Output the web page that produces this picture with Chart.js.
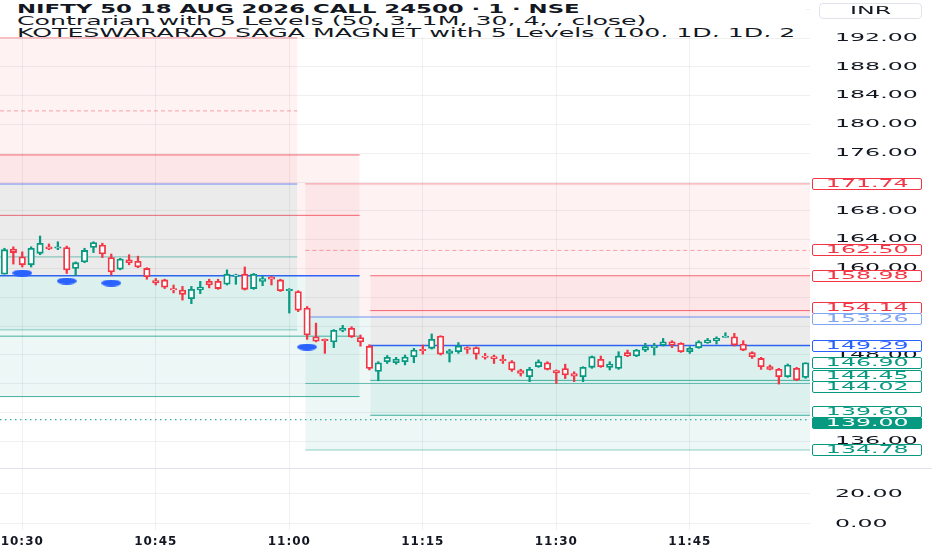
<!DOCTYPE html>
<html>
<head>
<meta charset="utf-8">
<title>NIFTY 50 18 AUG 2026 CALL 24500</title>
<script src="https://cdn.jsdelivr.net/npm/chart.js@4.4.1/dist/chart.umd.min.js"></script>
<style>
    html, body { margin: 0; padding: 0; background: #fff; }
    body { width: 932px; height: 550px; position: relative; overflow: hidden; font-family: 'DejaVu Sans', sans-serif; color: #131722; }
    canvas { position: absolute; left: 0; }
    #mainChart { top: 0; }
    #lowerChart { top: 468px; }
    #divider { position: absolute; left: 0; top: 468px; width: 932px; height: 1px; background: #e0e3eb; }
    #legend { position: absolute; left: 0; top: 0; width: 806px; height: 37px; background: #fff; overflow: hidden; }
    #legend div { position: absolute; left: 17px; white-space: nowrap; font-size: 12px; line-height: 12px; transform-origin: left center; }
    #legend .l1 { top: 3px; font-weight: bold; transform: scaleX(1.9); }
    #legend .l2 { top: 15px; transform: scaleX(2.1); }
    #legend .l3 { top: 27px; transform: scaleX(2.1); }
    #inr { position: absolute; left: 819px; top: 3px; width: 103px; height: 16px; box-sizing: border-box; border: 1px solid #e0e3eb; border-radius: 4px; text-align: center; font-size: 11px; line-height: 14px; }
    #inr span, .plabel span { display: inline-block; transform: scaleX(2.15); }
    .plabel { position: absolute; left: 812px; width: 110px; height: 12px; box-sizing: border-box; border: 1px solid; border-radius: 2px; background: #fff; text-align: center; font-size: 11px; line-height: 10px; }
</style>
</head>
<body>
<canvas id="mainChart" width="932" height="468"></canvas>
<canvas id="lowerChart" width="932" height="82"></canvas>
<div id="divider"></div>
<div id="legend">
    <div class="l1">NIFTY 50 18 AUG 2026 CALL 24500 · 1 · NSE</div>
    <div class="l2">Contrarian with 5 Levels (50, 3, 1M, 30, 4, , close)</div>
    <div class="l3">KOTESWARARAO SAGA MAGNET with 5 Levels (100, 1D, 1D, 2</div>
</div>
<div id="inr"><span>INR</span></div>
<script>
const times = [
    '10:28', '10:29', '10:30', '10:31', '10:32', '10:33', '10:34', '10:35', '10:36', '10:37',
    '10:38', '10:39', '10:40', '10:41', '10:42', '10:43', '10:44', '10:45', '10:46', '10:47',
    '10:48', '10:49', '10:50', '10:51', '10:52', '10:53', '10:54', '10:55', '10:56', '10:57',
    '10:58', '10:59', '11:00', '11:01', '11:02', '11:03', '11:04', '11:05', '11:06', '11:07',
    '11:08', '11:09', '11:10', '11:11', '11:12', '11:13', '11:14', '11:15', '11:16', '11:17',
    '11:18', '11:19', '11:20', '11:21', '11:22', '11:23', '11:24', '11:25', '11:26', '11:27',
    '11:28', '11:29', '11:30', '11:31', '11:32', '11:33', '11:34', '11:35', '11:36', '11:37',
    '11:38', '11:39', '11:40', '11:41', '11:42', '11:43', '11:44', '11:45', '11:46', '11:47',
    '11:48', '11:49', '11:50', '11:51', '11:52', '11:53', '11:54', '11:55', '11:56', '11:57',
    '11:58'
];

const opens = [
    159.2, 162.7, 161.6, 160.5, 162.1, 163.0, 162.8, 162.9, 160.0, 160.9,
    162.9, 163.25, 161.5, 159.9, 161.2, 161.0, 160.0, 158.3, 158.4, 157.2,
    157.0, 155.8, 157.0, 158.2, 158.2, 157.8, 158.9, 159.2, 157.2, 158.2,
    158.8, 158.4, 156.9, 156.8, 154.5, 150.5, 150.15, 149.8, 151.4, 151.7,
    150.4, 149.2, 145.7, 147.05, 146.9, 147.05, 147.74, 148.76, 148.9, 150.6,
    148.2, 148.43, 149.0, 149.0, 147.83, 147.74, 147.37, 147.04, 145.8, 144.96,
    146.35, 146.9, 145.8, 146.1, 145.4, 144.96, 146.26, 147.37, 146.26, 146.12,
    148.3, 147.83, 148.66, 149.0, 149.36, 149.82, 149.59, 148.43, 149.0, 149.68,
    149.96, 150.4, 150.5, 149.5, 148.3, 147.5, 146.35, 145.98, 144.96, 146.12,
    144.87
];
const highs = [
    162.8, 163.0, 162.3, 163.0, 164.5, 163.4, 163.7, 163.1, 160.9, 162.8,
    163.7, 163.5, 162.0, 161.4, 161.9, 161.7, 160.1, 158.6, 158.5, 157.7,
    157.5, 157.5, 158.2, 158.5, 158.5, 159.8, 159.2, 160.2, 159.3, 158.9,
    158.9, 158.5, 157.2, 156.9, 154.7, 152.4, 150.2, 151.5, 152.1, 151.9,
    150.75, 149.4, 147.05, 147.9, 147.65, 147.97, 148.9, 149.36, 150.9, 150.65,
    148.76, 149.7, 149.13, 149.1, 148.2, 147.97, 147.97, 147.2, 146.0, 146.26,
    147.3, 147.04, 145.9, 146.7, 145.65, 146.35, 147.83, 147.83, 147.04, 148.43,
    148.66, 148.76, 149.6, 149.6, 150.28, 149.96, 149.68, 149.13, 149.96, 150.28,
    150.5, 151.07, 150.98, 149.96, 148.43, 147.65, 146.58, 146.12, 146.72, 146.26,
    146.9
];
const lows = [
    159.2, 160.6, 160.2, 160.2, 161.9, 162.6, 162.6, 159.3, 159.0, 160.8,
    162.2, 161.5, 159.1, 159.8, 160.5, 160.1, 158.5, 157.7, 157.2, 156.6,
    155.6, 155.1, 156.5, 157.3, 157.1, 157.7, 157.8, 157.0, 157.1, 157.6,
    157.7, 156.8, 153.8, 154.0, 150.15, 149.8, 148.2, 149.0, 151.2, 150.4,
    149.2, 145.9, 144.4, 146.8, 146.7, 146.6, 146.9, 148.1, 148.8, 147.97,
    147.0, 148.2, 148.2, 147.4, 147.4, 146.8, 146.8, 145.7, 145.05, 144.27,
    146.26, 145.9, 144.04, 144.7, 144.27, 144.27, 146.12, 146.26, 145.9, 145.98,
    147.74, 147.74, 148.43, 147.97, 149.22, 149.0, 148.34, 148.2, 148.9, 149.59,
    149.5, 150.4, 149.22, 148.57, 147.5, 145.98, 145.9, 143.94, 144.87, 144.4,
    144.73
];
const closes = [
    162.6, 162.2, 160.5, 162.8, 163.5, 162.7, 163.0, 159.8, 160.8, 162.5,
    163.6, 162.0, 159.5, 161.3, 160.8, 160.2, 158.85, 158.0, 157.4, 157.0,
    156.4, 157.1, 157.4, 157.7, 157.2, 159.2, 159.1, 157.1, 159.2, 158.6,
    158.5, 156.9, 157.1, 154.2, 150.75, 149.9, 149.96, 151.4, 151.7, 150.5,
    149.8, 146.1, 146.9, 147.65, 147.4, 147.7, 148.66, 148.57, 150.15, 148.1,
    148.57, 149.22, 148.76, 148.1, 147.65, 147.46, 147.2, 145.9, 145.4, 145.98,
    147.04, 145.98, 145.5, 145.2, 145.05, 146.26, 147.74, 146.35, 146.72, 147.83,
    147.83, 148.66, 149.13, 149.22, 149.82, 149.36, 148.43, 148.9, 149.82, 150.05,
    150.28, 150.6, 149.36, 148.66, 147.74, 146.35, 145.98, 144.96, 146.58, 144.5,
    146.9
];

// 5-level zones: top, upper, centre, lower, bottom
const magnetA = [192.02, 181.88, 171.74, 161.60, 151.46];
const contrarianB = [175.76, 167.37, 158.98, 150.59, 142.20];
const magnetC = [171.74, 162.50, 153.26, 144.02, 134.78];
const contrarianD = [158.98, 154.14, 149.29, 144.45, 139.60];
const spanA = [-0.5, 32.9];
const spanB = [-0.5, 39.9];
const spanC = [33.8, 90.5];
const spanD = [41.1, 90.5];
const refPrice = 139.00;

const markerIdx = [2, 7, 12, 34];
const markerVals = [159.36, 158.25, 157.97, 149.08];

const timeTickIdx = [2, 17, 32, 47, 62, 77];
const priceTicks = [192, 188, 184, 180, 176, 168, 164, 160, 148, 136];
const lowerTicks = [0, 20];
const axisLabels = [171.74, 162.50, 158.98, 154.14, 153.26, 149.29, 146.90, 144.45, 144.02, 139.60, 139.00, 134.78];

const UP = '#089981';
const DOWN = '#f23645';
const GRID = 'rgba(42,46,57,0.07)';
const PINK_FILL = 'rgba(242,54,69,0.065)';
const GREEN_FILL = 'rgba(8,153,129,0.075)';
const TICK_FONT = { family: 'DejaVu Sans', size: 11 };
const labelColors = ['#f23645', '#f23645', '#f23645', '#f23645', '#7fa6f2', '#2962ff',
    '#089981', '#089981', '#089981', '#089981', 'fill', '#089981'];

const magnetStyle = {
    lines: ['rgba(242,54,69,0.5)', 'rgba(242,54,69,0.45)', 'rgba(41,98,255,0.45)', 'rgba(8,153,129,0.55)', 'rgba(8,153,129,0.45)'],
    dash: true
};
const contrarianStyle = {
    lines: ['rgba(242,54,69,0.75)', 'rgba(242,54,69,0.75)', '#2962ff', 'rgba(8,153,129,0.75)', 'rgba(8,153,129,0.75)'],
    dash: false
};

function levelDatasets(levels, span, style) {
    const center = levels[2];
    return levels.map((v, i) => ({
        type: 'line',
        data: [{ x: span[0], y: v }, { x: span[1], y: v }],
        borderColor: style.lines[i],
        borderWidth: i === 2 ? 1.5 : 1,
        borderDash: style.dash && i === 1 ? [4, 3] : [],
        pointRadius: 0,
        fill: (i === 0 || i === 4) ? { value: center } : false,
        backgroundColor: i === 0 ? PINK_FILL : GREEN_FILL,
        order: 10
    }));
}

// y labels drawn horizontally stretched, x labels slightly spaced
const tickStyle = {
    id: 'tickStyle',
    beforeDraw(chart, args, opts) {
        const ys = chart.scales.y;
        const xs = chart.scales.x;
        if (!ys._styled) {
            const drawY = ys.drawLabels;
            ys.drawLabels = function (area) {
                const ctx = this.ctx;
                const x0 = this.left + this.options.ticks.padding;
                ctx.save();
                ctx.translate(x0, 0);
                ctx.scale(opts.stretch, 1);
                ctx.translate(-x0, 0);
                drawY.call(this, area);
                ctx.restore();
            };
            ys._styled = true;
        }
        if (opts.spacing && !xs._styled) {
            const drawX = xs.drawLabels;
            xs.drawLabels = function (area) {
                const ctx = this.ctx;
                ctx.save();
                ctx.letterSpacing = opts.spacing;
                drawX.call(this, area);
                ctx.restore();
            };
            xs._styled = true;
        }
    }
};

const dot = document.createElement('canvas');
dot.width = 20;
dot.height = 7;
const dctx = dot.getContext('2d');
dctx.fillStyle = '#2962ff';
dctx.beginPath();
dctx.ellipse(10, 3.5, 10, 3.5, 0, 0, Math.PI * 2);
dctx.fill();

const candleColors = closes.map((c, i) => (c >= opens[i] ? UP : DOWN));

const mainChart = new Chart(document.getElementById('mainChart'), {
    type: 'bar',
    data: {
        datasets: [
            ...levelDatasets(magnetA, spanA, magnetStyle),
            ...levelDatasets(contrarianB, spanB, contrarianStyle),
            ...levelDatasets(magnetC, spanC, magnetStyle),
            ...levelDatasets(contrarianD, spanD, contrarianStyle),
            {
                type: 'line',
                data: [{ x: -0.5, y: refPrice }, { x: 90.5, y: refPrice }],
                borderColor: 'rgba(8,153,129,0.8)',
                borderWidth: 1.2,
                borderDash: [1.5, 3.5],
                pointRadius: 0,
                fill: false,
                order: 9
            },
            {
                type: 'bar',
                data: lows.map((l, i) => ({ x: i, y: [l, highs[i]] })),
                backgroundColor: candleColors,
                barThickness: 1.6,
                grouped: false,
                order: 2
            },
            {
                type: 'bar',
                data: opens.map((o, i) => ({ x: i, y: [o, closes[i]] })),
                backgroundColor: '#ffffff',
                borderColor: candleColors,
                borderWidth: 1.8,
                borderSkipped: false,
                barThickness: 6.5,
                grouped: false,
                order: 1
            },
            {
                type: 'scatter',
                data: markerIdx.map((x, i) => ({ x: x, y: markerVals[i] })),
                pointStyle: dot,
                pointRadius: 6,
                showLine: false,
                order: 0
            }
        ]
    },
    options: {
        responsive: false,
        animation: false,
        events: [],
        layout: { padding: 0, autoPadding: false },
        plugins: {
            legend: { display: false },
            tooltip: { enabled: false },
            tickStyle: { stretch: 2.15 }
        },
        scales: {
            x: {
                type: 'linear',
                min: -0.5,
                max: 90.5,
                offset: false,
                grid: { color: GRID, drawTicks: false, offset: false },
                border: { display: false },
                ticks: { display: false },
                afterBuildTicks: (s) => { s.ticks = timeTickIdx.map((v) => ({ value: v })); },
                afterFit: (s) => { s.height = 0; s.paddingLeft = 0; s.paddingRight = 0; }
            },
            y: {
                type: 'linear',
                position: 'right',
                min: 132.28,
                max: 197.28,
                grid: { color: GRID, drawTicks: false },
                border: { display: false },
                ticks: {
                    stepSize: 4,
                    maxTicksLimit: 100,
                    includeBounds: false,
                    padding: 25,
                    crossAlign: 'near',
                    color: '#131722',
                    font: TICK_FONT,
                    callback: (v) => (priceTicks.includes(Math.round(v)) ? v.toFixed(2) : '')
                },
                afterFit: (s) => { s.width = 122; s.paddingTop = 0; s.paddingBottom = 0; }
            }
        }
    },
    plugins: [tickStyle]
});

new Chart(document.getElementById('lowerChart'), {
    type: 'line',
    data: { datasets: [] },
    options: {
        responsive: false,
        animation: false,
        events: [],
        layout: { padding: 0, autoPadding: false },
        plugins: {
            legend: { display: false },
            tooltip: { enabled: false },
            tickStyle: { stretch: 2.15, spacing: '1px' }
        },
        scales: {
            x: {
                type: 'linear',
                min: -0.5,
                max: 90.5,
                grid: { color: GRID, drawTicks: false },
                border: { display: false },
                ticks: {
                    padding: 5,
                    autoSkip: false,
                    maxRotation: 0,
                    color: '#131722',
                    font: { family: 'DejaVu Sans', size: 12, weight: 'bold' },
                    callback: (v) => times[v]
                },
                afterBuildTicks: (s) => { s.ticks = timeTickIdx.map((v) => ({ value: v })); },
                afterFit: (s) => { s.height = 20; s.paddingLeft = 0; s.paddingRight = 0; }
            },
            y: {
                type: 'linear',
                position: 'right',
                min: -4,
                max: 37.33,
                grid: { color: GRID, drawTicks: false },
                border: { display: false },
                ticks: {
                    stepSize: 20,
                    includeBounds: false,
                    padding: 25,
                    crossAlign: 'near',
                    color: '#131722',
                    font: TICK_FONT,
                    callback: (v) => (lowerTicks.includes(v) ? v.toFixed(2) : '')
                },
                afterFit: (s) => { s.width = 122; s.paddingTop = 0; s.paddingBottom = 0; }
            }
        }
    },
    plugins: [tickStyle]
});

// keep overlapping price labels apart, like the platform does
function spreadLabels(ys, h) {
    let groups = ys.map((y, i) => ({ idx: [i], center: y }));
    let merged = true;
    while (merged) {
        merged = false;
        for (let i = 0; i < groups.length - 1; i++) {
            const a = groups[i];
            const b = groups[i + 1];
            if (a.center + a.idx.length * h / 2 > b.center - b.idx.length * h / 2) {
                const idx = a.idx.concat(b.idx);
                const center = idx.reduce((s, k) => s + ys[k], 0) / idx.length;
                groups.splice(i, 2, { idx, center });
                merged = true;
                break;
            }
        }
    }
    const out = [];
    groups.forEach((g) => {
        const top = g.center - g.idx.length * h / 2;
        g.idx.forEach((k, j) => { out[k] = top + h * j + h / 2; });
    });
    return out;
}

const ys = axisLabels.map((v) => mainChart.scales.y.getPixelForValue(v));
const pos = spreadLabels(ys, 11);
axisLabels.forEach((v, i) => {
    const el = document.createElement('div');
    el.className = 'plabel';
    el.style.top = (pos[i] - 6) + 'px';
    if (labelColors[i] === 'fill') {
        el.style.background = UP;
        el.style.borderColor = UP;
        el.style.color = '#fff';
    } else {
        el.style.borderColor = labelColors[i];
        el.style.color = labelColors[i];
    }
    el.innerHTML = '<span>' + v.toFixed(2) + '</span>';
    document.body.appendChild(el);
});
</script>
</body>
</html>
